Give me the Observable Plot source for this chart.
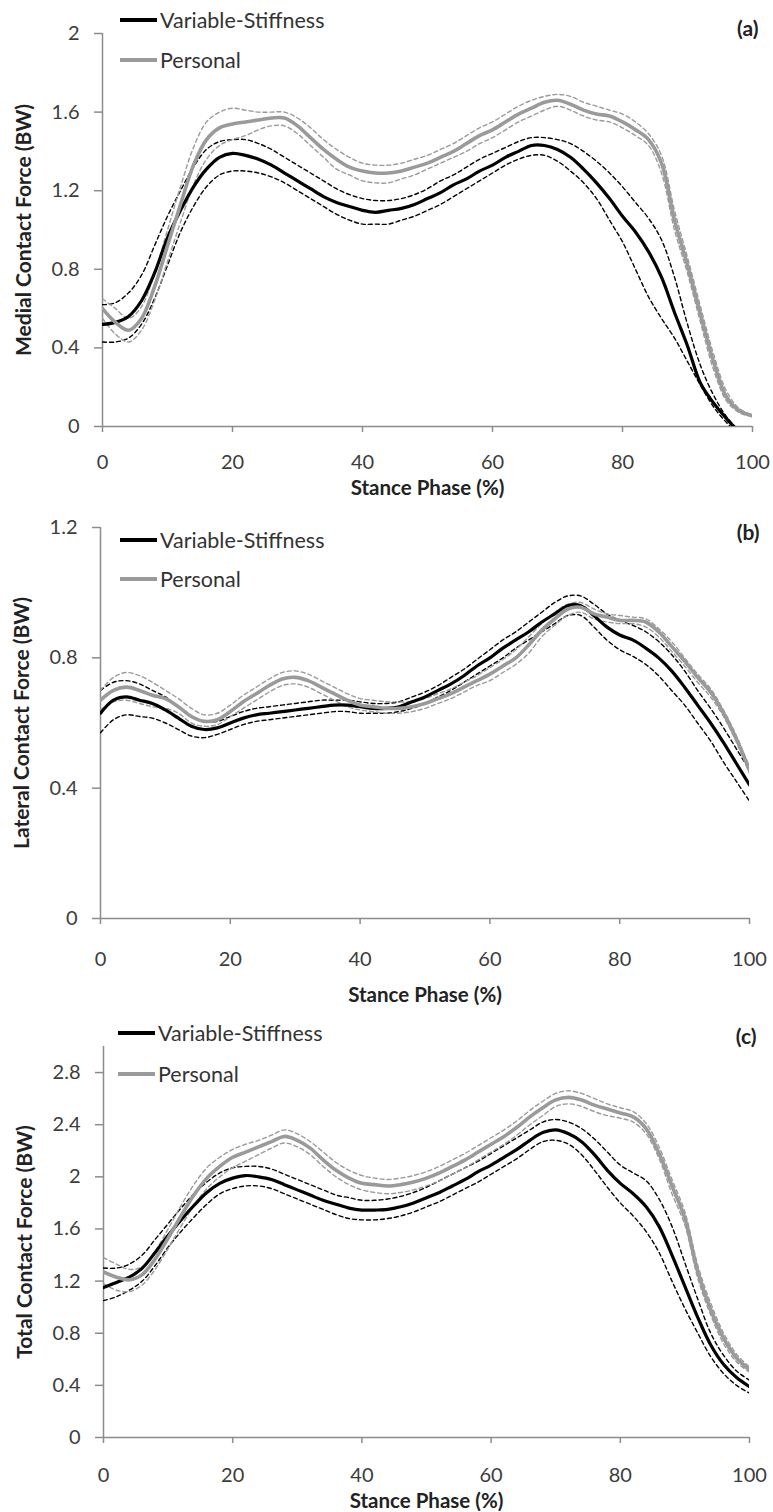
<!DOCTYPE html>
<html><head><meta charset="utf-8">
<script src="https://cdn.jsdelivr.net/npm/d3@7"></script>
<script src="https://cdn.jsdelivr.net/npm/@observablehq/plot@0.6"></script>
<style>
body{margin:0;background:#fff;font-family:Lato,sans-serif;}
#chart{position:relative;width:773px;}
.panel{position:relative;width:773px;}
.panel svg{display:block;}
.legend{position:absolute;left:0;top:0;font:21.5px Lato,sans-serif;color:#333;}
.legend .row{position:absolute;display:flex;align-items:center;white-space:nowrap;height:26px;}
.legend .sw{width:37px;height:4px;margin-right:3px;}
svg [aria-label="x-axis"] line, svg [aria-label="y-axis"] line,
svg [aria-label="x-axis tick"] path, svg [aria-label="y-axis tick"] path{stroke:#8c8c8c;stroke-width:1.5px;}
</style></head><body><div id="chart"></div>
<script>
const stancePct = [0,2,4,6,8,10,12,14,16,18,20,22,24,26,28,30,32,34,36,38,40,42,44,46,48,50,52,54,56,58,60,62,64,66,68,70,72,74,76,78,80,82,84,86,88,90,92,94,96,98,100];
const xTicks = [0,20,40,60,80,100];
const seriesNames = ["Variable-Stiffness","Personal"];
const xTitle = "Stance Phase (%)";

// (a) Medial
const aTicks = [0,0.4,0.8,1.2,1.6,2];
const aVsMean = [0.52,0.53,0.56,0.64,0.78,0.96,1.10,1.22,1.31,1.37,1.39,1.38,1.36,1.33,1.29,1.25,1.21,1.17,1.14,1.12,1.10,1.09,1.10,1.11,1.13,1.16,1.19,1.23,1.26,1.30,1.33,1.37,1.40,1.43,1.43,1.41,1.37,1.31,1.24,1.16,1.07,0.99,0.89,0.76,0.58,0.41,0.22,0.12,0.04,-0.03,-0.08];
const aVsUp = [0.62,0.63,0.68,0.77,0.92,1.07,1.20,1.32,1.41,1.45,1.46,1.46,1.44,1.41,1.37,1.33,1.29,1.25,1.21,1.18,1.16,1.15,1.15,1.16,1.18,1.21,1.25,1.28,1.32,1.36,1.39,1.42,1.45,1.47,1.47,1.46,1.44,1.40,1.35,1.29,1.22,1.14,1.06,0.95,0.76,0.52,0.31,0.16,0.05,-0.02,-0.06];
const aVsLo = [0.43,0.43,0.45,0.52,0.65,0.82,0.99,1.12,1.22,1.28,1.30,1.30,1.29,1.27,1.24,1.20,1.16,1.12,1.08,1.05,1.03,1.03,1.03,1.05,1.07,1.10,1.13,1.17,1.21,1.25,1.29,1.33,1.36,1.38,1.38,1.35,1.30,1.24,1.16,1.05,0.94,0.80,0.66,0.55,0.45,0.33,0.21,0.10,0.02,-0.04,-0.09];
const aPMean = [0.60,0.53,0.49,0.55,0.71,0.92,1.13,1.33,1.46,1.52,1.54,1.55,1.56,1.57,1.57,1.53,1.47,1.41,1.36,1.32,1.30,1.29,1.29,1.30,1.32,1.34,1.37,1.40,1.44,1.48,1.51,1.55,1.59,1.62,1.65,1.66,1.64,1.61,1.59,1.58,1.55,1.51,1.46,1.34,1.05,0.82,0.57,0.33,0.15,0.08,0.055];
const aPUp = [0.65,0.60,0.55,0.61,0.78,1.00,1.22,1.42,1.55,1.60,1.62,1.61,1.60,1.60,1.60,1.57,1.52,1.46,1.41,1.37,1.34,1.33,1.33,1.34,1.36,1.38,1.41,1.44,1.48,1.52,1.55,1.59,1.63,1.66,1.68,1.69,1.68,1.65,1.63,1.61,1.59,1.55,1.49,1.38,1.10,0.86,0.61,0.37,0.18,0.09,0.06];
const aPLo = [0.55,0.47,0.43,0.49,0.64,0.84,1.04,1.23,1.36,1.43,1.46,1.48,1.51,1.53,1.53,1.49,1.43,1.37,1.31,1.28,1.25,1.24,1.24,1.26,1.28,1.31,1.34,1.37,1.40,1.44,1.47,1.51,1.55,1.58,1.61,1.63,1.61,1.58,1.56,1.55,1.52,1.48,1.43,1.29,1.00,0.78,0.53,0.29,0.13,0.07,0.05];

// (b) Lateral
const bTicks = [0,0.4,0.8,1.2];
const bVsMean = [0.63,0.67,0.68,0.67,0.66,0.64,0.615,0.59,0.58,0.585,0.60,0.615,0.625,0.63,0.635,0.64,0.645,0.65,0.655,0.655,0.65,0.645,0.645,0.65,0.665,0.68,0.70,0.72,0.745,0.775,0.80,0.83,0.855,0.88,0.91,0.935,0.96,0.96,0.93,0.895,0.87,0.855,0.83,0.80,0.76,0.71,0.655,0.60,0.54,0.475,0.41];
const bVsUp = [0.70,0.725,0.73,0.72,0.70,0.68,0.65,0.62,0.605,0.605,0.62,0.635,0.645,0.65,0.655,0.66,0.665,0.67,0.67,0.67,0.665,0.66,0.66,0.665,0.68,0.695,0.715,0.74,0.765,0.795,0.825,0.855,0.88,0.91,0.94,0.97,0.99,0.99,0.965,0.935,0.915,0.90,0.88,0.85,0.81,0.76,0.70,0.645,0.585,0.52,0.455];
const bVsLo = [0.57,0.61,0.625,0.62,0.615,0.60,0.58,0.56,0.555,0.565,0.58,0.595,0.605,0.61,0.615,0.62,0.625,0.63,0.635,0.635,0.63,0.63,0.63,0.635,0.645,0.66,0.68,0.70,0.725,0.75,0.775,0.80,0.83,0.855,0.88,0.905,0.93,0.93,0.895,0.855,0.825,0.805,0.78,0.745,0.70,0.655,0.60,0.545,0.48,0.42,0.36];
const bPMean = [0.67,0.70,0.71,0.70,0.685,0.675,0.65,0.62,0.605,0.61,0.635,0.665,0.69,0.715,0.735,0.74,0.73,0.71,0.69,0.67,0.655,0.65,0.645,0.645,0.65,0.66,0.675,0.69,0.71,0.73,0.75,0.775,0.80,0.84,0.885,0.92,0.95,0.955,0.935,0.925,0.915,0.915,0.91,0.88,0.835,0.79,0.74,0.695,0.63,0.55,0.455];
const bPUp = [0.70,0.74,0.755,0.745,0.725,0.70,0.675,0.645,0.625,0.63,0.655,0.685,0.71,0.735,0.755,0.76,0.75,0.73,0.71,0.69,0.675,0.67,0.665,0.665,0.665,0.675,0.69,0.705,0.725,0.745,0.77,0.795,0.825,0.865,0.905,0.94,0.965,0.97,0.95,0.935,0.93,0.925,0.92,0.89,0.85,0.80,0.75,0.705,0.64,0.56,0.465];
const bPLo = [0.64,0.665,0.67,0.66,0.65,0.645,0.63,0.60,0.59,0.595,0.62,0.645,0.67,0.695,0.715,0.72,0.71,0.69,0.67,0.65,0.64,0.635,0.63,0.63,0.635,0.645,0.66,0.675,0.695,0.715,0.73,0.755,0.78,0.815,0.865,0.90,0.93,0.94,0.92,0.91,0.905,0.905,0.895,0.865,0.82,0.775,0.725,0.68,0.62,0.54,0.445];

// (c) Total
const cTicks = [0,0.4,0.8,1.2,1.6,2,2.4,2.8];
const cVsMean = [1.15,1.19,1.23,1.30,1.42,1.55,1.67,1.78,1.88,1.95,1.99,2.01,2.00,1.98,1.94,1.90,1.86,1.82,1.79,1.76,1.745,1.745,1.75,1.77,1.80,1.84,1.88,1.93,1.98,2.04,2.09,2.15,2.21,2.28,2.34,2.36,2.33,2.27,2.17,2.05,1.95,1.87,1.77,1.62,1.40,1.16,0.92,0.71,0.56,0.46,0.39];
const cVsUp = [1.30,1.30,1.33,1.40,1.52,1.64,1.76,1.87,1.96,2.03,2.07,2.08,2.08,2.06,2.02,1.98,1.94,1.90,1.86,1.84,1.82,1.82,1.83,1.85,1.88,1.92,1.97,2.02,2.07,2.12,2.18,2.24,2.30,2.36,2.42,2.44,2.42,2.37,2.29,2.19,2.09,2.03,1.97,1.83,1.62,1.34,1.06,0.80,0.63,0.51,0.44];
const cVsLo = [1.05,1.08,1.13,1.20,1.32,1.46,1.58,1.69,1.79,1.87,1.91,1.93,1.93,1.91,1.87,1.83,1.79,1.75,1.71,1.68,1.67,1.67,1.68,1.70,1.73,1.77,1.81,1.86,1.91,1.96,2.02,2.08,2.14,2.21,2.27,2.28,2.25,2.17,2.05,1.92,1.80,1.70,1.58,1.42,1.20,0.99,0.80,0.62,0.49,0.40,0.34];
const cPMean = [1.27,1.23,1.21,1.25,1.37,1.53,1.70,1.86,1.99,2.08,2.15,2.19,2.23,2.27,2.31,2.28,2.22,2.13,2.05,1.99,1.95,1.94,1.93,1.94,1.96,1.99,2.03,2.08,2.13,2.19,2.25,2.31,2.38,2.46,2.53,2.59,2.61,2.59,2.55,2.52,2.49,2.46,2.37,2.18,1.93,1.68,1.27,0.98,0.76,0.61,0.52];
const cPUp = [1.38,1.33,1.29,1.31,1.43,1.60,1.78,1.94,2.07,2.15,2.21,2.25,2.28,2.32,2.36,2.33,2.27,2.19,2.11,2.05,2.01,1.99,1.98,1.99,2.01,2.04,2.08,2.13,2.18,2.24,2.30,2.36,2.43,2.51,2.58,2.64,2.66,2.64,2.60,2.56,2.53,2.50,2.41,2.23,1.98,1.73,1.32,1.03,0.80,0.64,0.54];
const cPLo = [1.18,1.13,1.12,1.17,1.29,1.45,1.62,1.78,1.91,2.00,2.07,2.12,2.17,2.22,2.26,2.23,2.17,2.08,2.00,1.94,1.90,1.88,1.87,1.88,1.90,1.93,1.97,2.02,2.07,2.13,2.19,2.25,2.32,2.40,2.47,2.54,2.56,2.54,2.50,2.47,2.45,2.42,2.33,2.14,1.87,1.63,1.22,0.94,0.72,0.58,0.50];

const panels = [
  {tag:"(a)", yLabel:"Medial Contact Force (BW)", yDomain:[0,2], yTicks:aTicks,
   vs:[aVsMean,aVsUp,aVsLo], p:[aPMean,aPUp,aPLo],
   height:497, mt:33, mb:71, ml:102, mr:21, tickPad:22, xLabelDy:62, tagDx:6, tagDy:-4,
   legendLeft:120, legendRows:[20,60]},
  {tag:"(b)", yLabel:"Lateral Contact Force (BW)", yDomain:[0,1.2], yTicks:bTicks,
   vs:[bVsMean,bVsUp,bVsLo], p:[bPMean,bPUp,bPLo],
   height:508, mt:30, mb:87, ml:100, mr:24, tickPad:27, xLabelDy:77, tagDx:10, tagDy:6,
   legendLeft:120, legendRows:[43,82]},
  {tag:"(c)", yLabel:"Total Contact Force (BW)", yDomain:[0,3], yTicks:cTicks,
   vs:[cVsMean,cVsUp,cVsLo], p:[cPMean,cPUp,cPLo],
   height:507, mt:41, mb:75, ml:103, mr:24, tickPad:24, xLabelDy:64, tagDx:7, tagDy:-9,
   legendLeft:118, legendRows:[28,69]}
];

const BLACK = "#000", GRAY = "#9a9a9a";
const toRows = vals => stancePct.map((x, i) => ({x, y: vals[i]}));

function makePanel(cfg) {
  const marks = [
    Plot.ruleY([0], {stroke:"#8c8c8c", strokeWidth:1.5}),
    Plot.ruleX([0], {stroke:"#8c8c8c", strokeWidth:1.5})
  ];
  const specs = [
    [cfg.vs[1], BLACK, 1.4, "4,3"], [cfg.vs[2], BLACK, 1.4, "4,3"],
    [cfg.p[1], GRAY, 1.4, "4,3"], [cfg.p[2], GRAY, 1.4, "4,3"],
    [cfg.vs[0], BLACK, 3.2, null], [cfg.p[0], GRAY, 3.6, null]
  ];
  for (const [vals, stroke, w, dash] of specs) {
    const o = {x:"x", y:"y", stroke, strokeWidth:w, curve:"catmull-rom", clip:true};
    if (dash) o.strokeDasharray = dash;
    marks.push(Plot.line(toRows(vals), o));
  }
  marks.push(Plot.text([cfg.yLabel], {text:d=>d, frameAnchor:"left", dx:-78, rotate:-90, textAnchor:"middle", lineAnchor:"middle", fontWeight:"bold", fontSize:21, fill:"#222"}));
  marks.push(Plot.text([xTitle], {text:d=>d, frameAnchor:"bottom", dy:cfg.xLabelDy, textAnchor:"middle", lineAnchor:"middle", fontWeight:"bold", fontSize:20.5, fill:"#222"}));
  marks.push(Plot.text([cfg.tag], {text:d=>d, frameAnchor:"top-right", dx:cfg.tagDx, dy:cfg.tagDy, textAnchor:"end", lineAnchor:"middle", fontWeight:"bold", fontSize:21, fill:"#222"}));
  return Plot.plot({
    width:773, height:cfg.height,
    marginTop:cfg.mt, marginBottom:cfg.mb, marginLeft:cfg.ml, marginRight:cfg.mr,
    x:{domain:[0,100], ticks:xTicks, tickSize:6, tickPadding:cfg.tickPad, label:null, tickFormat:d=>String(d)},
    y:{domain:cfg.yDomain, ticks:cfg.yTicks, tickSize:8, tickPadding:15, label:null, tickFormat:d=>String(d)},
    style:{fontFamily:"Lato, sans-serif", fontSize:"20px", color:"#3c3c3c", background:"transparent", overflow:"visible"},
    marks
  });
}

const root = document.getElementById("chart");
for (const cfg of panels) {
  const wrap = document.createElement("div");
  wrap.className = "panel";
  wrap.appendChild(makePanel(cfg));
  const leg = document.createElement("div");
  leg.className = "legend";
  seriesNames.forEach((name, i) => {
    const row = document.createElement("div");
    row.className = "row";
    row.style.left = cfg.legendLeft + "px";
    row.style.top = (cfg.legendRows[i] - 13) + "px";
    const sw = document.createElement("span");
    sw.className = "sw";
    sw.style.background = i === 0 ? BLACK : GRAY;
    const t = document.createElement("span");
    t.textContent = name;
    row.appendChild(sw); row.appendChild(t);
    leg.appendChild(row);
  });
  wrap.appendChild(leg);
  root.appendChild(wrap);
}
</script></body></html>
